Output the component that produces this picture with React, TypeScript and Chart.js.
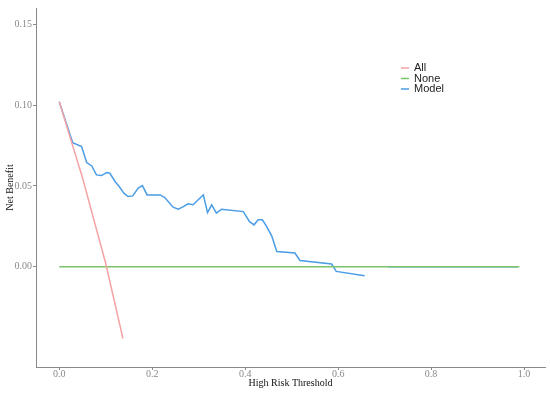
import React, { useEffect, useRef } from "react";
import { Chart, registerables } from "chart.js";

Chart.register(...registerables);

const xTicks = [0, 0.2, 0.4, 0.6, 0.8, 1.0];
const xTickLabels = ["0.0", "0.2", "0.4", "0.6", "0.8", "1.0"];
const yTicks = [0, 0.05, 0.1, 0.15];
const yTickLabels = ["0.00", "0.05", "0.10", "0.15"];

const allX = [0, 0.05, 0.1, 0.137];
const allY = [0.102, 0.055, 0.002, -0.0444];

const noneX = [0, 0.99];
const noneY = [0, 0];

const modelX = [
  0, 0.029, 0.048, 0.059, 0.07, 0.08, 0.091, 0.102, 0.109, 0.12, 0.129, 0.139, 0.148, 0.158,
  0.17, 0.179, 0.189, 0.217, 0.227, 0.245, 0.256, 0.267, 0.277, 0.288, 0.299, 0.31, 0.319,
  0.328, 0.338, 0.349, 0.396, 0.409, 0.419, 0.428, 0.437, 0.446, 0.457, 0.468, 0.507, 0.518,
  0.586, 0.596, 0.657, 0.68, 0.707, 0.986,
];
const modelY: (number | null)[] = [
  0.102, 0.0767, 0.0743, 0.0644, 0.0623, 0.0568, 0.0564, 0.0582, 0.0578, 0.0527, 0.0496,
  0.0455, 0.0434, 0.0438, 0.0486, 0.0502, 0.0444, 0.0444, 0.0428, 0.0368, 0.0356, 0.0372,
  0.0389, 0.0383, 0.0414, 0.0444, 0.0335, 0.0383, 0.0331, 0.0356, 0.0341, 0.028, 0.0259,
  0.029, 0.029, 0.0249, 0.0191, 0.0094, 0.0085, 0.0039, 0.0017, -0.0029, -0.0056, null, 0, 0,
];

const seriesNames = ["All", "None", "Model"];
const seriesColors = ["#F5A3A3", "#7CC46C", "#4A9DE6"];

const toPts = (xs: number[], ys: (number | null)[]) => xs.map((x, i) => ({ x, y: ys[i] }));

const legendPlugin = {
  id: "customLegend",
  afterDraw(chart: any) {
    const ctx = chart.ctx;
    ctx.save();
    ctx.font = "11px 'Liberation Sans', Arial, sans-serif";
    ctx.textBaseline = "middle";
    ctx.textAlign = "left";
    seriesNames.forEach((name, i) => {
      const y = 68 + i * 10.5;
      ctx.strokeStyle = seriesColors[i];
      ctx.lineWidth = 1.5;
      ctx.beginPath();
      ctx.moveTo(401, y);
      ctx.lineTo(409, y);
      ctx.stroke();
      ctx.fillStyle = "#222";
      ctx.fillText(name, 414, y);
    });
    ctx.restore();
  },
};

export default function App() {
  const ref = useRef<HTMLCanvasElement | null>(null);
  useEffect(() => {
    document.body.style.margin = "0";
    const gray = "#8a8a8a";
    const tickFont = { family: "'Liberation Serif', 'Times New Roman', serif", size: 10 };
    const titleFont = { family: "'Liberation Serif', 'Times New Roman', serif", size: 10 };
    const chart = new Chart(ref.current!, {
      type: "line",
      data: {
        datasets: [
          { label: "All", data: toPts(allX, allY), borderColor: seriesColors[0], borderWidth: 1.5, pointRadius: 0, tension: 0 },
          { label: "None", data: toPts(noneX, noneY), borderColor: seriesColors[1], borderWidth: 1.5, pointRadius: 0, tension: 0 },
          { label: "Model", data: toPts(modelX, modelY), borderColor: seriesColors[2], borderWidth: 1.5, pointRadius: 0, tension: 0, spanGaps: false },
        ],
      },
      options: {
        animation: false,
        responsive: false,
        maintainAspectRatio: false,
        layout: { padding: { top: 8, right: 5, left: 0, bottom: 0 } },
        plugins: { legend: { display: false }, tooltip: { enabled: false } },
        scales: {
          x: {
            type: "linear",
            min: -0.05,
            max: 1.045,
            afterBuildTicks: (s: any) => { s.ticks = xTicks.map((v) => ({ value: v })); },
            afterFit: (s: any) => { s.height = 26; },
            grid: { display: true, drawOnChartArea: false, drawTicks: true, tickLength: 3, color: gray },
            border: { display: true, color: gray, width: 1 },
            ticks: { color: gray, font: tickFont, padding: -2, maxRotation: 0, autoSkip: false, callback: (_v: any, i: number) => xTickLabels[i] },
            title: { display: true, text: "High Risk Threshold", color: "#111", font: titleFont, padding: { top: 0, bottom: 4 } },
          },
          y: {
            type: "linear",
            min: -0.062,
            max: 0.16,
            afterBuildTicks: (s: any) => { s.ticks = yTicks.map((v) => ({ value: v })); },
            afterFit: (s: any) => { s.width = 36; },
            grid: { display: true, drawOnChartArea: false, drawTicks: true, tickLength: 3, color: gray },
            border: { display: true, color: gray, width: 1 },
            ticks: { color: gray, font: tickFont, padding: 1, autoSkip: false, callback: (_v: any, i: number) => yTickLabels[i] },
            title: { display: true, text: "Net Benefit", color: "#111", font: titleFont, padding: { top: 4, bottom: 0 } },
          },
        },
      },
      plugins: [legendPlugin],
    } as any);
    return () => chart.destroy();
  }, []);
  return (
    <div style={{ width: 550, height: 393 }}>
      <canvas ref={ref} width={550} height={393} style={{ display: "block" }} />
    </div>
  );
}
